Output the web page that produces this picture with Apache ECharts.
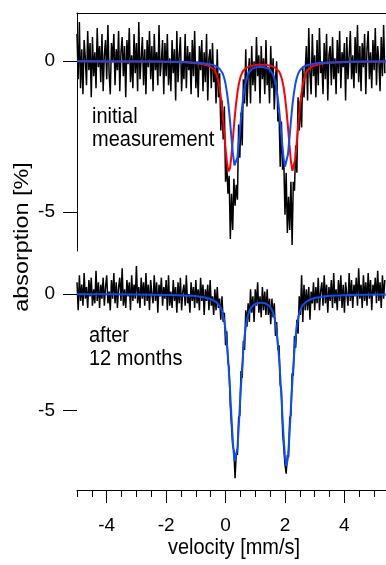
<!DOCTYPE html>
<html>
<head>
<meta charset="utf-8">
<script src="https://cdn.jsdelivr.net/npm/echarts@6/dist/echarts.min.js"></script>
<style>
  html, body { margin: 0; padding: 0; background: #fff; }
  #chart { width: 386px; height: 565px; }
</style>
</head>
<body>
<div id="chart"></div>
<script>
// velocity of the first channel and channel spacing [mm/s]
const VEL_START = -5.0;
const VEL_STEP = 0.04;

// measured absorption [%], one value per channel (initial measurement)
const initialSpectrum = [
  0.9, -0.6, 1.3, -0.9, 0.4, -1.1, 0.7, 0.1, -0.8, 1.0, -0.3, 0.6, -1.2, 0.8, -0.5, 0.3, -0.9, 1.1, -0.2, 0.5,
  -0.7, 0.9, -1.0, 0.2, 0.7, -0.6, 1.2, -0.4, -1.1, 0.6, 0.0, 0.9, -0.8, 0.4, -0.3, 1.0, -1.0, 0.3, 0.8, -0.5,
  0.5, -1.2, 0.7, -0.1, 1.1, -0.7, 0.2, -0.9, 0.9, -0.4, 0.6, -1.0, 1.3, -0.6, 0.1, 0.8, -0.8, 0.4, -1.1, 0.7,
  -0.2, 1.0, -0.6, 0.5, -1.0, 0.9, -0.3, 0.3, -0.8, 1.2, -0.5, 0.0, 0.7, -1.1, 0.6, -0.5, 0.9, -0.8, 0.1, -1.0,
  0.7, -0.4, 0.4, -1.3, 1.0, -0.7, 0.2, 0.8, -1.0, 0.0, -0.6, 0.9, -0.9, 0.5, -0.3, 0.3, -1.1, 0.7, -0.5, 1.0,
  -0.9, 0.0, -1.2, 0.5, -0.3, 0.7, -1.0, 0.3, -0.7, 0.9, -1.3, 0.1, 0.4, -0.9, 0.6, -0.7, -0.2, -1.4, 0.4, -1.2,
  -0.4, -2.3, -1.3, -2.6, -1.5, -4.0, -3.4, -4.4, -3.8, -5.9, -4.4, -5.6, -3.9, -4.8, -4.1, -4.6, -2.1, -3.2, -1.7, -2.8,
  -0.6, -1.4, 0.4, -1.5, -0.5, 0.1, -1.4, 0.5, -0.8, 0.0, -1.0, 0.8, -0.5, 0.2, -1.4, 0.5, -0.6, 0.1, -1.1, 0.7,
  -0.8, -0.2, -1.4, 0.5, -0.9, 0.1, -1.6, -0.6, 0.0, -2.0, -1.7, -3.5, -2.0, -3.6, -3.3, -5.1, -3.7, -5.7, -4.5, -5.6,
  -4.0, -6.1, -4.0, -4.3, -2.8, -3.7, -1.2, -2.3, -1.3, -2.2, -0.2, -1.2, -0.3, 0.5, -1.3, 1.1, -0.4, -1.1, 0.9, -0.5,
  0.2, -1.2, 0.7, -0.8, 1.1, -0.4, 0.0, -1.1, 0.6, -0.6, 0.9, -1.3, 0.2, 0.5, -0.8, 0.8, -0.6, 0.1, -1.1, 0.7,
  -0.4, 1.0, -0.9, 0.3, -0.2, 0.6, -1.3, 0.8, -0.6, 0.2, 1.0, -0.6, 0.2, -0.9, 0.8, -0.4, 1.2, -0.7, 0.5, -1.0,
  0.6, -0.2, 0.9, -1.1, 0.4, 1.0, -0.6, 0.3, -0.9, 0.7, -0.3, 1.1, -0.8, 0.5, 0.0, -1.0, 0.8, -0.5, 1.2, -0.4
];

// measured absorption [%], one value per channel (after 12 months)
const laterSpectrum = [
  0.5, -0.7, 0.8, -0.3, 0.4, -0.5, 0.9, -0.2, 0.3, -0.6, 0.6, -0.1, 0.7, -0.5, 0.2, -0.4, 1.0, -0.3, 0.5, -0.6,
  0.4, -0.2, 0.7, -0.5, 0.3, 0.8, -0.4, 0.1, -0.7, 0.6, -0.2, 0.9, -0.4, 0.5, -0.6, 0.3, 0.7, -0.3, 1.1, -0.5,
  0.2, -0.6, 0.6, -0.1, 0.5, -0.7, 0.8, -0.3, 0.4, -0.2, 1.2, -0.4, 0.3, -0.6, 0.7, -0.2, 0.5, -0.5, 0.9, -0.3,
  0.4, -0.7, 0.6, 0.0, -0.4, 0.8, -0.3, 0.5, -0.8, 0.4, -0.1, 0.7, -0.5, 0.3, -0.2, 0.6, -0.7, 0.8, -0.5, 0.1,
  -0.6, 0.6, -0.3, 0.3, -0.8, 0.5, -0.4, 0.7, -0.7, 0.1, 0.4, -0.5, 0.8, -0.4, 0.0, -0.8, 0.5, -0.3, 0.3, -0.6,
  0.6, -0.4, 0.2, -0.7, 0.7, -0.3, 0.4, -0.9, 0.2, -0.3, 0.4, -0.7, 0.6, -0.5, -0.1, -0.9, 0.2, -0.7, 0.3, -0.6,
  -0.2, -1.1, -0.1, -1.2, -0.8, -2.2, -1.6, -2.9, -3.2, -4.8, -4.8, -6.5, -6.7, -7.9, -6.8, -6.9, -5.3, -5.2, -3.3, -3.6,
  -2.0, -2.4, -0.7, -1.4, -0.4, -1.2, 0.2, -0.8, -0.1, -1.2, 0.2, -0.5, 0.5, -0.8, -0.1, -1.0, 0.3, -0.7, 0.1, -0.9,
  0.2, -0.9, -0.2, -1.3, -0.2, -1.0, -0.4, -1.8, -1.2, -2.4, -2.2, -3.9, -4.1, -5.9, -5.9, -7.3, -7.7, -6.9, -7.0, -5.3,
  -5.2, -3.4, -3.5, -1.8, -2.3, -1.1, -1.7, -0.1, -0.9, 0.8, -1.2, 0.4, -0.7, 0.2, -0.7, 0.3, -1.1, 0.1, -0.4, 0.5,
  -0.7, 0.3, -0.4, 0.7, -0.7, 0.1, 0.5, -0.5, 0.8, -0.4, 0.4, -0.8, 0.3, -0.3, 0.6, -0.6, 0.9, -0.4, 0.2, -0.7,
  0.6, -0.3, 0.8, -0.6, 0.4, -0.8, 0.5, 0.0, -0.5, 0.9, -0.3, 0.6, -0.6, 0.4, -0.1, 0.7, -0.5, 1.1, -0.2, 0.4,
  -0.6, 0.8, -0.3, 0.5, -0.5, 0.9, -0.2, 0.6, -0.7, 0.4, 0.0, 0.7, -0.4, 1.0, -0.3, 0.5, -0.6, 0.8, -0.2, 0.6
];

// velocities where the fitted curves are read [mm/s]
const fitVelocity = [
  -5, -4, -3, -2.5, -2, -1.6, -1.3, -1.1, -0.9, -0.75, -0.6, -0.5,
  -0.4, -0.35, -0.3, -0.25, -0.2, -0.15, -0.1, -0.05, 0, 0.05,
  0.1, 0.15, 0.2, 0.25, 0.3, 0.35, 0.4, 0.45, 0.5, 0.55,
  0.6, 0.65, 0.7, 0.75, 0.8, 0.85, 0.9, 0.95, 1, 1.05,
  1.1, 1.15, 1.2, 1.25, 1.3, 1.35, 1.4, 1.45, 1.5, 1.55,
  1.6, 1.65, 1.7, 1.75, 1.8, 1.85, 1.9, 1.95, 2, 2.05,
  2.1, 2.15, 2.2, 2.25, 2.3, 2.35, 2.4, 2.45, 2.5, 2.55,
  2.6, 2.65, 2.7, 2.75, 2.8,
  2.9, 3, 3.15, 3.3, 3.5, 3.8, 4.2, 4.7, 5.4
];

// initial measurement, red subspectrum
const initialFitRed = [
  0, -0.01, -0.01, -0.01, -0.02, -0.03, -0.04, -0.06, -0.08, -0.10, -0.14, -0.19,
  -0.27, -0.35, -0.46, -0.64, -0.89, -1.26, -1.73, -2.30, -2.89, -3.40,
  -3.66, -3.55, -3.12, -2.54, -1.95, -1.44, -1.04, -0.74, -0.53, -0.40,
  -0.31, -0.26, -0.22, -0.19, -0.18, -0.16, -0.15, -0.14, -0.13, -0.13,
  -0.12, -0.12, -0.12, -0.12, -0.12, -0.13, -0.13, -0.14, -0.15, -0.17,
  -0.18, -0.20, -0.24, -0.28, -0.34, -0.45, -0.61, -0.84, -1.18, -1.63,
  -2.18, -2.78, -3.32, -3.64, -3.60, -3.22, -2.66, -2.06, -1.53, -1.10,
  -0.78, -0.56, -0.41, -0.31, -0.25,
  -0.18, -0.14, -0.10, -0.07, -0.05, -0.04, -0.02, -0.02, -0.01
];

// initial measurement, blue subspectrum
const initialFitBlue = [
  0, -0.01, -0.01, -0.01, -0.02, -0.02, -0.03, -0.04, -0.05, -0.07, -0.09, -0.11,
  -0.13, -0.15, -0.18, -0.20, -0.25, -0.31, -0.40, -0.54, -0.75, -1.06,
  -1.47, -1.98, -2.56, -3.10, -3.46, -3.50, -3.19, -2.68, -2.11, -1.58,
  -1.15, -0.82, -0.60, -0.45, -0.35, -0.29, -0.25, -0.23, -0.21, -0.20,
  -0.19, -0.19, -0.19, -0.19, -0.20, -0.21, -0.23, -0.25, -0.29, -0.35,
  -0.45, -0.60, -0.82, -1.15, -1.58, -2.11, -2.68, -3.19, -3.50, -3.46,
  -3.10, -2.56, -1.98, -1.47, -1.06, -0.75, -0.54, -0.40, -0.31, -0.25,
  -0.20, -0.18, -0.15, -0.13, -0.12,
  -0.10, -0.08, -0.06, -0.05, -0.04, -0.03, -0.02, -0.01, -0.01
];

// after 12 months, blue fit
const laterFitBlue = [
  -0.01, -0.01, -0.02, -0.03, -0.04, -0.05, -0.07, -0.08, -0.11, -0.14, -0.18, -0.22,
  -0.28, -0.32, -0.36, -0.42, -0.51, -0.63, -0.82, -1.11, -1.56, -2.19,
  -3.05, -4.11, -5.31, -6.43, -7.17, -7.25, -6.62, -5.55, -4.37, -3.27,
  -2.38, -1.71, -1.24, -0.93, -0.73, -0.60, -0.52, -0.46, -0.43, -0.40,
  -0.38, -0.38, -0.37, -0.38, -0.39, -0.41, -0.45, -0.49, -0.55, -0.65,
  -0.80, -1.04, -1.42, -1.97, -2.73, -3.73, -4.89, -6.07, -7.01, -7.38,
  -7.00, -6.06, -4.87, -3.70, -2.71, -1.93, -1.37, -0.99, -0.74, -0.58,
  -0.48, -0.40, -0.35, -0.30, -0.27,
  -0.21, -0.17, -0.14, -0.11, -0.08, -0.06, -0.04, -0.03, -0.02
];

const xMajorTicks = [-4, -2, 0, 2, 4];
const xMinorTicks = [-5, -4.5, -4, -3.5, -3, -2.5, -2, -1.5, -1, -0.5, 0, 0.5, 1, 1.5, 2, 2.5, 3, 3.5, 4, 4.5, 5];
const yTicks = [-5, 0];

const FONT = '"Liberation Sans", Arial, sans-serif';
const BLACK = '#000';
const RED = '#ff0000';
const BLUE = '#0b4dfb';

const channels = (values) => values.map((v, i) => [+(VEL_START + i * VEL_STEP).toFixed(2), v]);
const fitPairs = (values) => fitVelocity.map((x, i) => [x, values[i]]);

const chart = echarts.init(document.getElementById('chart'), null, { renderer: 'canvas' });

const yAxisBase = (grid, min, max, showLine) => ({
  gridIndex: grid,
  type: 'value',
  min: min,
  max: max,
  axisLine: { show: showLine, onZero: false, lineStyle: { color: BLACK, width: 1 } },
  axisTick: { show: true, customValues: yTicks, length: 14, lineStyle: { color: BLACK, width: 1 } },
  axisLabel: { customValues: yTicks, margin: 22, color: BLACK, fontSize: 19, fontFamily: FONT },
  splitLine: { show: false }
});

const lineSeries = (xi, yi, data, color, width, z) => ({
  type: 'line',
  xAxisIndex: xi,
  yAxisIndex: yi,
  data: data,
  showSymbol: false,
  symbol: 'none',
  lineStyle: { color: color, width: width },
  z: z,
  silent: true
});

// horizontal annotation text, slightly taller glyphs like the source figure
const label = (text, x, y, align) => ({
  type: 'text', x: x, y: y, scaleY: 1.12,
  style: { text: text, font: '20px ' + FONT, fill: BLACK, align: align || 'left', verticalAlign: 'middle' }
});

chart.setOption({
  animation: false,
  backgroundColor: '#fff',
  grid: [
    { left: 77, top: 13, width: 312, height: 238 },
    { left: 77, top: 259, width: 312, height: 231 }
  ],
  xAxis: [
    {
      gridIndex: 0, type: 'value', min: -5, max: 5.4, position: 'top',
      axisLine: { show: true, onZero: false, lineStyle: { color: BLACK, width: 1 } },
      axisTick: { show: false }, axisLabel: { show: false }, splitLine: { show: false }
    },
    {
      gridIndex: 1, type: 'value', min: -5, max: 5.4, position: 'bottom',
      axisLine: { show: true, onZero: false, lineStyle: { color: BLACK, width: 1 } },
      axisTick: { show: true, customValues: xMajorTicks, length: 13, lineStyle: { color: BLACK, width: 1 } },
      axisLabel: { customValues: xMajorTicks, margin: 26, color: BLACK, fontSize: 19, fontFamily: FONT },
      splitLine: { show: false }
    },
    {
      gridIndex: 1, type: 'value', min: -5, max: 5.4, position: 'bottom',
      axisLine: { show: false, onZero: false },
      axisTick: { show: true, customValues: xMinorTicks, length: 7, lineStyle: { color: BLACK, width: 1 } },
      axisLabel: { show: false }, splitLine: { show: false }
    }
  ],
  yAxis: [
    yAxisBase(0, -6.3, 1.6, true),
    yAxisBase(1, -8.4, 1.5, false)
  ],
  series: [
    lineSeries(0, 0, channels(initialSpectrum), BLACK, 1.5, 1),
    lineSeries(0, 0, fitPairs(initialFitRed), RED, 2, 2),
    lineSeries(0, 0, fitPairs(initialFitBlue), BLUE, 2, 3),
    lineSeries(1, 1, channels(laterSpectrum), BLACK, 1.5, 1),
    lineSeries(1, 1, fitPairs(laterFitBlue), BLUE, 2, 3)
  ],
  graphic: [
    label('initial', 92, 117),
    label('measurement', 92, 140),
    label('after', 89, 336),
    label('12 months', 89, 359),
    label('velocity [mm/s]', 234, 548, 'center'),
    {
      type: 'text', x: 22, y: 237, rotation: Math.PI / 2, scaleX: 1.17,
      style: { text: 'absorption [%]', font: '20px ' + FONT, fill: BLACK, align: 'center', verticalAlign: 'middle' }
    }
  ]
});
</script>
</body>
</html>
